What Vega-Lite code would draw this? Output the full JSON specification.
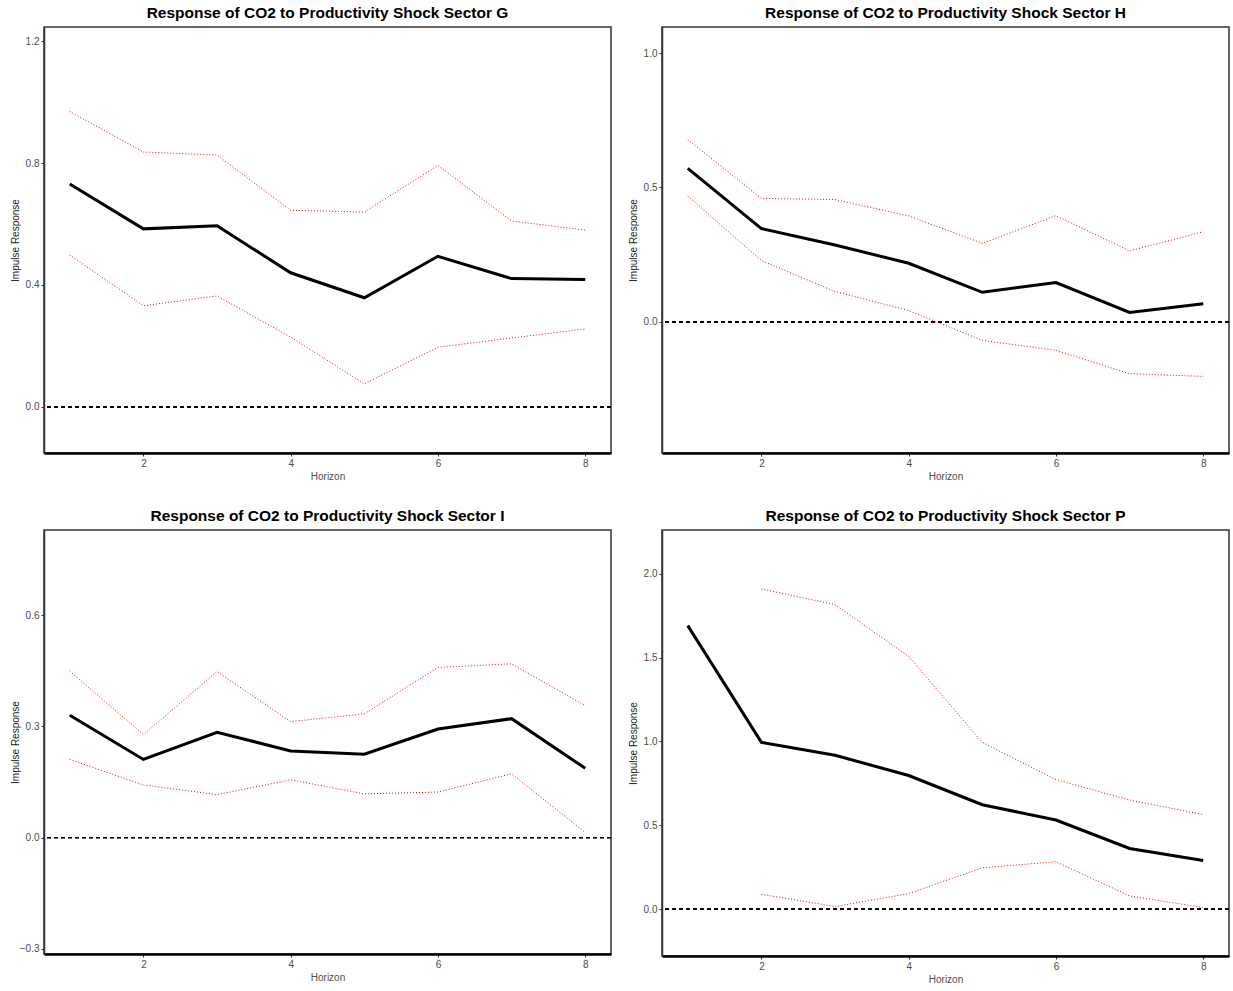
{
  "$schema": "https://vega.github.io/schema/vega-lite/v6.json",
  "background": "white",
  "padding": {"left": 9, "top": 4, "right": 4, "bottom": 4},
  "datasets": {
    "irf": [
      {"sector": "G", "h": 1, "irf": 0.731, "lo": 0.498, "up": 0.969},
      {"sector": "G", "h": 2, "irf": 0.584, "lo": 0.332, "up": 0.836},
      {"sector": "G", "h": 3, "irf": 0.594, "lo": 0.364, "up": 0.826},
      {"sector": "G", "h": 4, "irf": 0.440, "lo": 0.229, "up": 0.645},
      {"sector": "G", "h": 5, "irf": 0.358, "lo": 0.076, "up": 0.639},
      {"sector": "G", "h": 6, "irf": 0.494, "lo": 0.196, "up": 0.792},
      {"sector": "G", "h": 7, "irf": 0.421, "lo": 0.226, "up": 0.610},
      {"sector": "G", "h": 8, "irf": 0.418, "lo": 0.256, "up": 0.580},
      {"sector": "H", "h": 1, "irf": 0.571, "lo": 0.468, "up": 0.678},
      {"sector": "H", "h": 2, "irf": 0.347, "lo": 0.228, "up": 0.459},
      {"sector": "H", "h": 3, "irf": 0.286, "lo": 0.113, "up": 0.455},
      {"sector": "H", "h": 4, "irf": 0.218, "lo": 0.042, "up": 0.394},
      {"sector": "H", "h": 5, "irf": 0.110, "lo": -0.069, "up": 0.292},
      {"sector": "H", "h": 6, "irf": 0.146, "lo": -0.106, "up": 0.395},
      {"sector": "H", "h": 7, "irf": 0.035, "lo": -0.193, "up": 0.264},
      {"sector": "H", "h": 8, "irf": 0.067, "lo": -0.203, "up": 0.335},
      {"sector": "I", "h": 1, "irf": 0.330, "lo": 0.211, "up": 0.449},
      {"sector": "I", "h": 2, "irf": 0.211, "lo": 0.142, "up": 0.278},
      {"sector": "I", "h": 3, "irf": 0.284, "lo": 0.116, "up": 0.448},
      {"sector": "I", "h": 4, "irf": 0.234, "lo": 0.156, "up": 0.313},
      {"sector": "I", "h": 5, "irf": 0.225, "lo": 0.118, "up": 0.334},
      {"sector": "I", "h": 6, "irf": 0.293, "lo": 0.123, "up": 0.459},
      {"sector": "I", "h": 7, "irf": 0.321, "lo": 0.172, "up": 0.469},
      {"sector": "I", "h": 8, "irf": 0.187, "lo": 0.014, "up": 0.356},
      {"sector": "P", "h": 1, "irf": 1.691, "lo": null, "up": null},
      {"sector": "P", "h": 2, "irf": 0.995, "lo": 0.089, "up": 1.909},
      {"sector": "P", "h": 3, "irf": 0.918, "lo": 0.016, "up": 1.816},
      {"sector": "P", "h": 4, "irf": 0.797, "lo": 0.093, "up": 1.507},
      {"sector": "P", "h": 5, "irf": 0.623, "lo": 0.247, "up": 0.995},
      {"sector": "P", "h": 6, "irf": 0.532, "lo": 0.283, "up": 0.772},
      {"sector": "P", "h": 7, "irf": 0.362, "lo": 0.079, "up": 0.651},
      {"sector": "P", "h": 8, "irf": 0.291, "lo": 0.010, "up": 0.564}
    ]
  },
  "columns": 2,
  "spacing": {"row": 25, "column": 14},
  "concat": [
    {
      "title": "Response of CO2 to Productivity Shock Sector G",
      "width": 567, "height": 426,
      "data": {"name": "irf"},
      "transform": [{"filter": "datum.sector === 'G'"}],
      "layer": [
        {"mark": {"type": "rule", "color": "black", "strokeWidth": 1, "strokeDash": [4, 3]},
         "encoding": {"y": {"datum": 0, "type": "quantitative", "scale": {"domain": [-0.151, 1.246], "nice": false, "zero": false}, "axis": {"values": [0, 0.4, 0.8, 1.2], "format": ".1f", "title": "Impulse Response"}}}},
        {"mark": {"type": "line", "color": "red", "strokeWidth": 1, "strokeDash": [1, 2]},
         "encoding": {"x": {"field": "h", "type": "quantitative", "scale": {"domain": [0.65, 8.35], "nice": false, "zero": false}, "axis": {"values": [2, 4, 6, 8], "format": "d", "title": "Horizon"}},
                      "y": {"field": "up", "type": "quantitative", "scale": {"domain": [-0.151, 1.246], "nice": false, "zero": false}, "axis": {"values": [0, 0.4, 0.8, 1.2], "format": ".1f", "title": "Impulse Response"}}}},
        {"mark": {"type": "line", "color": "red", "strokeWidth": 1, "strokeDash": [1, 2]},
         "encoding": {"x": {"field": "h", "type": "quantitative"},
                      "y": {"field": "lo", "type": "quantitative"}}},
        {"mark": {"type": "line", "color": "black", "strokeWidth": 3},
         "encoding": {"x": {"field": "h", "type": "quantitative"},
                      "y": {"field": "irf", "type": "quantitative"}}}
      ]
    },
    {
      "title": "Response of CO2 to Productivity Shock Sector H",
      "width": 567, "height": 426,
      "data": {"name": "irf"},
      "transform": [{"filter": "datum.sector === 'H'"}],
      "layer": [
        {"mark": {"type": "rule", "color": "black", "strokeWidth": 1, "strokeDash": [4, 3]},
         "encoding": {"y": {"datum": 0, "type": "quantitative", "scale": {"domain": [-0.488, 1.097], "nice": false, "zero": false}, "axis": {"values": [0, 0.5, 1.0], "format": ".1f", "title": "Impulse Response"}}}},
        {"mark": {"type": "line", "color": "red", "strokeWidth": 1, "strokeDash": [1, 2]},
         "encoding": {"x": {"field": "h", "type": "quantitative", "scale": {"domain": [0.65, 8.35], "nice": false, "zero": false}, "axis": {"values": [2, 4, 6, 8], "format": "d", "title": "Horizon"}},
                      "y": {"field": "up", "type": "quantitative", "scale": {"domain": [-0.488, 1.097], "nice": false, "zero": false}, "axis": {"values": [0, 0.5, 1.0], "format": ".1f", "title": "Impulse Response"}}}},
        {"mark": {"type": "line", "color": "red", "strokeWidth": 1, "strokeDash": [1, 2]},
         "encoding": {"x": {"field": "h", "type": "quantitative"},
                      "y": {"field": "lo", "type": "quantitative"}}},
        {"mark": {"type": "line", "color": "black", "strokeWidth": 3},
         "encoding": {"x": {"field": "h", "type": "quantitative"},
                      "y": {"field": "irf", "type": "quantitative"}}}
      ]
    },
    {
      "title": "Response of CO2 to Productivity Shock Sector I",
      "width": 567, "height": 424,
      "data": {"name": "irf"},
      "transform": [{"filter": "datum.sector === 'I'"}],
      "layer": [
        {"mark": {"type": "rule", "color": "black", "strokeWidth": 1, "strokeDash": [4, 3]},
         "encoding": {"y": {"datum": 0, "type": "quantitative", "scale": {"domain": [-0.314, 0.83], "nice": false, "zero": false}, "axis": {"values": [-0.3, 0, 0.3, 0.6], "format": ".1f", "title": "Impulse Response"}}}},
        {"mark": {"type": "line", "color": "red", "strokeWidth": 1, "strokeDash": [1, 2]},
         "encoding": {"x": {"field": "h", "type": "quantitative", "scale": {"domain": [0.65, 8.35], "nice": false, "zero": false}, "axis": {"values": [2, 4, 6, 8], "format": "d", "title": "Horizon"}},
                      "y": {"field": "up", "type": "quantitative", "scale": {"domain": [-0.314, 0.83], "nice": false, "zero": false}, "axis": {"values": [-0.3, 0, 0.3, 0.6], "format": ".1f", "title": "Impulse Response"}}}},
        {"mark": {"type": "line", "color": "red", "strokeWidth": 1, "strokeDash": [1, 2]},
         "encoding": {"x": {"field": "h", "type": "quantitative"},
                      "y": {"field": "lo", "type": "quantitative"}}},
        {"mark": {"type": "line", "color": "black", "strokeWidth": 3},
         "encoding": {"x": {"field": "h", "type": "quantitative"},
                      "y": {"field": "irf", "type": "quantitative"}}}
      ]
    },
    {
      "title": "Response of CO2 to Productivity Shock Sector P",
      "width": 567, "height": 426,
      "data": {"name": "irf"},
      "transform": [{"filter": "datum.sector === 'P'"}],
      "layer": [
        {"mark": {"type": "rule", "color": "black", "strokeWidth": 1, "strokeDash": [4, 3]},
         "encoding": {"y": {"datum": 0, "type": "quantitative", "scale": {"domain": [-0.279, 2.261], "nice": false, "zero": false}, "axis": {"values": [0, 0.5, 1.0, 1.5, 2.0], "format": ".1f", "title": "Impulse Response"}}}},
        {"mark": {"type": "line", "color": "red", "strokeWidth": 1, "strokeDash": [1, 2]},
         "encoding": {"x": {"field": "h", "type": "quantitative", "scale": {"domain": [0.65, 8.35], "nice": false, "zero": false}, "axis": {"values": [2, 4, 6, 8], "format": "d", "title": "Horizon"}},
                      "y": {"field": "up", "type": "quantitative", "scale": {"domain": [-0.279, 2.261], "nice": false, "zero": false}, "axis": {"values": [0, 0.5, 1.0, 1.5, 2.0], "format": ".1f", "title": "Impulse Response"}}}},
        {"mark": {"type": "line", "color": "red", "strokeWidth": 1, "strokeDash": [1, 2]},
         "encoding": {"x": {"field": "h", "type": "quantitative"},
                      "y": {"field": "lo", "type": "quantitative"}}},
        {"mark": {"type": "line", "color": "black", "strokeWidth": 3},
         "encoding": {"x": {"field": "h", "type": "quantitative"},
                      "y": {"field": "irf", "type": "quantitative"}}}
      ]
    }
  ],
  "config": {
    "view": {"stroke": "#333333", "strokeWidth": 1.5},
    "axis": {
      "grid": false,
      "labelFont": "Liberation Sans",
      "labelFontSize": 10,
      "labelColor": "#4D4D4D",
      "tickColor": "#333333",
      "tickSize": 3,
      "labelPadding": 2,
      "titleFont": "Liberation Sans",
      "titleFontSize": 10,
      "titleFontWeight": "normal",
      "titleColor": "#1A1A1A",
      "domainColor": "#000000"
    },
    "axisY": {"minExtent": 20, "maxExtent": 20, "titlePadding": 4, "domainWidth": 1.5, "domainColor": "#333333"},
    "axisX": {"titlePadding": 3, "domainWidth": 2.5, "titleColor": "#4D4D4D"},
    "title": {"font": "Liberation Sans", "fontSize": 15.5, "fontWeight": "bold", "color": "#000000", "anchor": "middle", "offset": 6}
  }
}
